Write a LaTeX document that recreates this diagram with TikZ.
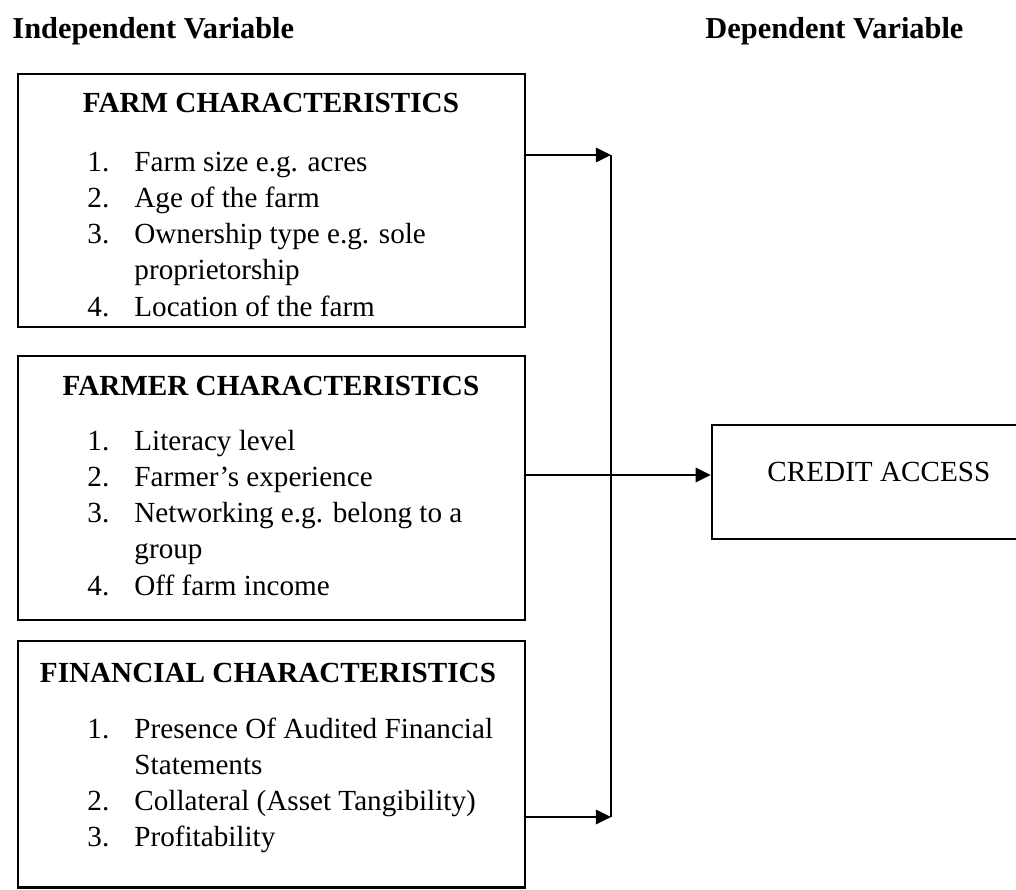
\documentclass[tikz,border=0pt]{standalone}
\usepackage{fontspec}
\setmainfont{Liberation Serif}
\usetikzlibrary{fit,arrows.meta}
\newcommand\itm[2]{\makebox[19.3pt][l]{#1}#2}
\tikzset{
  box/.style={draw, line width=1.1pt, inner sep=0pt},
  conn/.style={line width=0.55pt},
  arr/.style={conn, -{Triangle[length=6.2pt,width=6pt]}},
  title/.style={font=\fontsize{12.5pt}{15pt}\selectfont\bfseries, inner sep=0pt, anchor=base west},
  head/.style={font=\fontsize{12pt}{15pt}\selectfont\bfseries, inner sep=0pt, anchor=base},
  item/.style={font=\fontsize{12pt}{15pt}\selectfont, inner sep=0pt, anchor=base west},
}
\begin{document}
\begin{tikzpicture}[x=0.4115pt,y=-0.4115pt]
\useasboundingbox (0,0) rectangle (1016,889);
% titles
\node[title] (tind) at (12,38) {Independent Variable};
\node[title] (tdep) at (705,38) {Dependent Variable};
% boxes
\node[box, fit={(18,74) (525,327)}] (b1) {};
\node[box, fit={(18,356) (525,620)}] (b2) {};
\node[box, fit={(18,641) (525,887.5)}] (b3) {};
\node[box, fit={(712,425) (1024,539)}] (cred) {};
% box 1
\node[head] (h1) at (271,112) {FARM CHARACTERISTICS};
\node[item] (i11) at (87,171) {\itm{1.}{Farm size e.g. acres}};
\node[item] (i12) at (87,207.3) {\itm{2.}{Age of the farm}};
\node[item] (i13) at (87,243.6) {\itm{3.}{Ownership type e.g. sole}};
\node[item] (i13b) at (134,279.9) {proprietorship};
\node[item] (i14) at (87,316.2) {\itm{4.}{Location of the farm}};
% box 2
\node[head] (h2) at (271,395) {FARMER CHARACTERISTICS};
\node[item] (i21) at (87,450) {\itm{1.}{Literacy level}};
\node[item] (i22) at (87,486.3) {\itm{2.}{Farmer’s experience}};
\node[item] (i23) at (87,522.6) {\itm{3.}{Networking e.g. belong to a}};
\node[item] (i23b) at (134,558.9) {group};
\node[item] (i24) at (87,595.2) {\itm{4.}{Off farm income}};
% box 3
\node[head] (h3) at (268,682) {FINANCIAL CHARACTERISTICS};
\node[item] (i31) at (87,738) {\itm{1.}{Presence Of Audited Financial}};
\node[item] (i31b) at (134,774.3) {Statements};
\node[item] (i32) at (87,810.6) {\itm{2.}{Collateral (Asset Tangibility)}};
\node[item] (i33) at (87,846.9) {\itm{3.}{Profitability}};
% credit access
\node[item] (ctext) at (767,481) {CREDIT ACCESS};
% connectors
\coordinate (j1) at (611,155);
\coordinate (j2) at (611,475);
\coordinate (j3) at (611,817);
\draw[arr] (b1.east |- j1) -- (j1);
\draw[conn] (j1) -- (j3);
\draw[arr] (b3.east |- j3) -- (j3);
\draw[arr] (b2.east |- j2) -- (cred.west |- j2);
\end{tikzpicture}
\end{document}
